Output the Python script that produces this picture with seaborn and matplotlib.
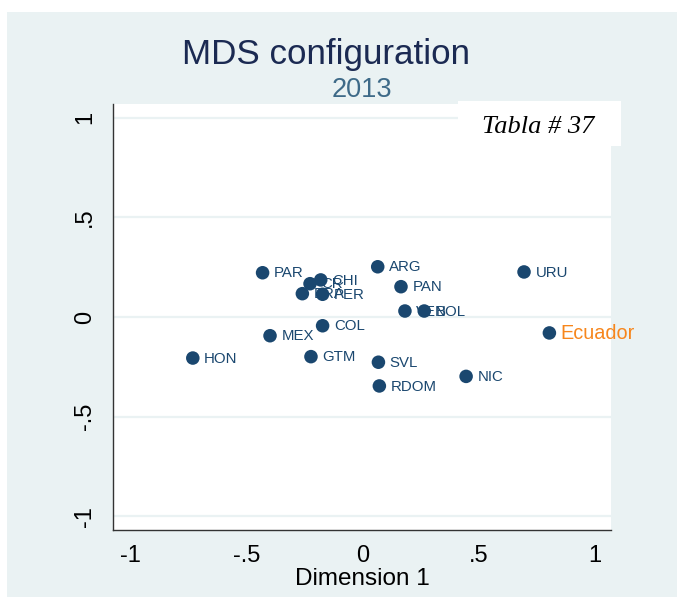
import matplotlib
matplotlib.use("Agg")
import matplotlib.pyplot as plt
from matplotlib.patches import Rectangle
import seaborn as sns
import pandas as pd

# MDS coordinates, 2013
countries = ["PAR", "CR", "CHI", "BRA", "PER", "ARG", "PAN", "VEN", "BOL", "URU",
             "Ecuador", "SVL", "RDOM", "NIC", "COL", "MEX", "HON", "GTM"]
dim1 = [-0.430, -0.226, -0.180, -0.259, -0.172, 0.065, 0.165, 0.182, 0.265, 0.694,
        0.803, 0.068, 0.072, 0.445, -0.172, -0.398, -0.730, -0.222]
dim2 = [0.222, 0.167, 0.186, 0.117, 0.114, 0.252, 0.152, 0.030, 0.030, 0.226,
        -0.080, -0.227, -0.346, -0.298, -0.044, -0.094, -0.206, -0.199]
highlight = "Ecuador"

ticks = [-1, -0.5, 0, 0.5, 1]
tick_labels = ["-1", "-.5", "0", ".5", "1"]

BG = "#eaf2f3"
NAVY = "#1a476f"
ORANGE = "#f7861c"

df = pd.DataFrame({"country": countries, "dim1": dim1, "dim2": dim2})

sns.set_style("white")
plt.rcParams["font.family"] = ["Liberation Sans", "DejaVu Sans"]

W, H = 677, 597
fig = plt.figure(figsize=(W / 100, H / 100), dpi=100)
fig.patch.set_facecolor("white")
fig.patches.append(Rectangle((7.3 / W, 0), 1 - 7.3 / W, 1 - 11.7 / H,
                             transform=fig.transFigure, facecolor=BG,
                             edgecolor="none", zorder=-10))

ax = fig.add_axes([113.3 / W, 1 - 530 / H, (611 - 113.3) / W, (530 - 104.3) / H])
ax.set_facecolor("white")

sns.scatterplot(data=df, x="dim1", y="dim2", color=NAVY, s=95,
                edgecolor="none", ax=ax, zorder=3)

for name, x, y in zip(countries, dim1, dim2):
    is_hl = name == highlight
    ax.annotate(name, (x, y), xytext=(8.2, -0.5), textcoords="offset points",
                va="center", ha="left",
                color=ORANGE if is_hl else NAVY,
                fontsize=14.3 if is_hl else 10.8, zorder=4)

ax.set_xlim(-1.0718, 1.0679)
ax.set_ylim(-1.0688, 1.0672)
ax.set_xticks(ticks)
ax.set_xticklabels(tick_labels)
ax.set_yticks(ticks)
ax.set_yticklabels(tick_labels, rotation=90, va="center")
ax.tick_params(axis="both", direction="out", length=6.5, width=0.9,
               color="#222222", labelsize=17, labelcolor="black")
ax.tick_params(axis="x", pad=4)
ax.tick_params(axis="y", pad=6)

ax.yaxis.grid(True, color=BG, linewidth=1.6, zorder=0)
ax.xaxis.grid(False)
ax.set_axisbelow(True)

for side in ["top", "right"]:
    ax.spines[side].set_visible(False)
for side in ["left", "bottom"]:
    ax.spines[side].set_color("#333333")
    ax.spines[side].set_linewidth(1.0)

ax.set_ylabel("")
ax.set_xlabel("Dimension 1", fontsize=17.5, color="black", va="baseline")
ax.xaxis.set_label_coords(0.5, (530 - 585) / (530 - 104.3))

fig.text(325.5 / W, 1 - 64 / H, "MDS configuration", ha="center", va="baseline",
         fontsize=25.2, color="#1b2a52")
fig.text(362 / W, 1 - 96.7 / H, "2013", ha="center", va="baseline",
         fontsize=19.5, color="#3e6a88")

fig.patches.append(Rectangle((458 / W, 1 - 146 / H), 163 / W, 45 / H,
                             transform=fig.transFigure, facecolor="white",
                             edgecolor="none", zorder=5))
fig.text(538 / W, 1 - 126.7 / H, "Tabla # 37", ha="center", va="center",
         fontsize=19, style="italic", color="black", zorder=6,
         family=["Liberation Serif", "DejaVu Serif"])

fig.savefig("out.png", dpi=100, facecolor=fig.get_facecolor())
